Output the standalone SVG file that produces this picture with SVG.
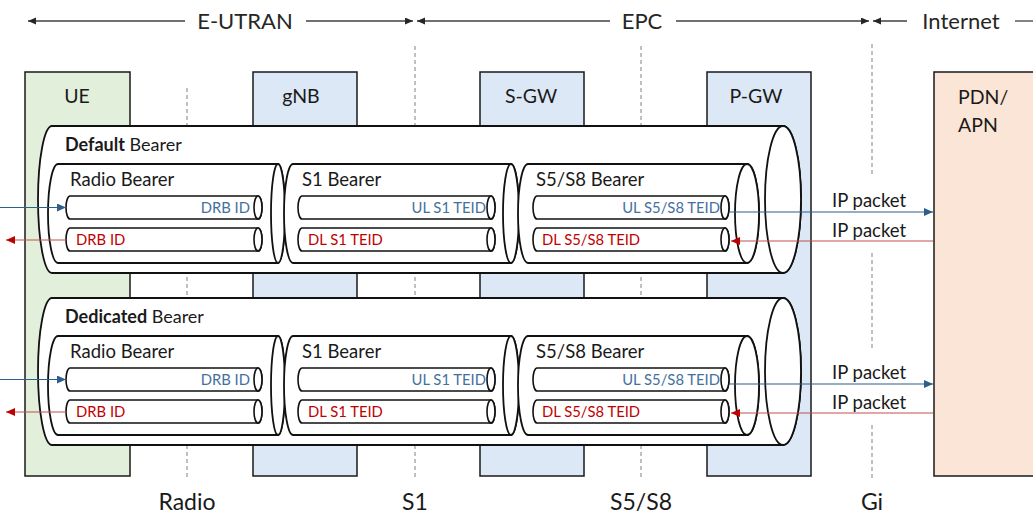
<svg xmlns="http://www.w3.org/2000/svg" width="1033" height="516" viewBox="0 0 1033 516">
<defs>
<style>
text{font-family:Lato,"Liberation Sans",sans-serif;fill:#1a1a1a}
.top{font-size:22px;text-anchor:middle;fill:#262626}
.box{stroke:#1a1a1a;stroke-width:1.5}
.ue{fill:#e2efda}.nb{fill:#dce8f5}.pdn{fill:#fbe5d6}
.bl{font-size:19.5px}
.bot{font-size:23px;text-anchor:middle}
.cyl{fill:#fff;stroke:#111;stroke-width:1.8}
.pipe{fill:#fff;stroke:#111;stroke-width:1.6}
.bn{font-size:18.5px}
.hd{font-size:18px}
.ul{font-size:14.8px;fill:#44709d;text-anchor:end}
.dl{font-size:14.8px;fill:#c00000}
.ip{font-size:18.5px}
.dash{stroke:#808080;stroke-width:1;stroke-dasharray:4 3}
.span{stroke:#404040;stroke-width:1.3;fill:none}
.blue{stroke:#2e5e8c;stroke-width:1.2}
.red{stroke:#c0504d;stroke-width:1.2}
</style>
<marker id="ak" markerUnits="userSpaceOnUse" markerWidth="9" markerHeight="8" refX="8" refY="3.5" orient="auto"><path d="M0,0L8,3.5L0,7z" fill="#262626"/></marker>
<marker id="ab" markerUnits="userSpaceOnUse" markerWidth="10" markerHeight="10" refX="9" refY="4" orient="auto"><path d="M0,0L9,4L0,8z" fill="#2e5e8c"/></marker>
<marker id="ar" markerUnits="userSpaceOnUse" markerWidth="10" markerHeight="10" refX="9" refY="4" orient="auto"><path d="M0,0L9,4L0,8z" fill="#c00000"/></marker>
</defs>
<rect width="1033" height="516" fill="#fff"/>

<g id="domains">
<line class="span" x1="185" y1="21" x2="28" y2="21" marker-end="url(#ak)"/>
<line class="span" x1="306" y1="21" x2="413" y2="21" marker-end="url(#ak)"/>
<text class="top" x="245" y="29">E-UTRAN</text>
<line class="span" x1="610" y1="21" x2="417" y2="21" marker-end="url(#ak)"/>
<line class="span" x1="676" y1="21" x2="869" y2="21" marker-end="url(#ak)"/>
<text class="top" x="642" y="29">EPC</text>
<line class="span" x1="907" y1="21" x2="873" y2="21" marker-end="url(#ak)"/>
<line class="span" x1="1015" y1="21" x2="1033" y2="21"/>
<text class="top" x="961" y="29">Internet</text>
</g>

<g id="interfaces">
<line class="dash" x1="187" y1="88" x2="187" y2="478"/>
<line class="dash" x1="415" y1="46" x2="415" y2="478"/>
<line class="dash" x1="641" y1="46" x2="641" y2="478"/>
<line class="dash" x1="872" y1="44" x2="872" y2="177"/>
<line class="dash" x1="872" y1="253" x2="872" y2="349"/>
<line class="dash" x1="872" y1="425" x2="872" y2="478"/>
<text class="bot" x="187" y="510">Radio</text>
<text class="bot" x="415" y="510">S1</text>
<text class="bot" x="641" y="510">S5/S8</text>
<text class="bot" x="872" y="510">Gi</text>
</g>

<g id="ue"><rect class="box ue" x="25" y="72" width="105" height="404"/><text class="bl" x="77" y="103" text-anchor="middle">UE</text></g>
<g id="gnb"><rect class="box nb" x="253" y="72" width="104" height="404"/><text class="bl" x="301" y="103" text-anchor="middle">gNB</text></g>
<g id="sgw"><rect class="box nb" x="480" y="72" width="104" height="404"/><text class="bl" x="531" y="103" text-anchor="middle">S-GW</text></g>
<g id="pgw"><rect class="box nb" x="707" y="72" width="104" height="404"/><text class="bl" x="756" y="103" text-anchor="middle">P-GW</text></g>
<g id="pdn"><rect class="box pdn" x="934" y="72" width="110" height="404"/><text class="bl" x="958" y="104">PDN/</text><text class="bl" x="958" y="132">APN</text></g>

<g id="default-bearer">
<path class="cyl" d="M52,126H783A18,73.5 0 0 1 783,273H52A14,73.5 0 0 1 52,126Z"/>
<ellipse class="cyl" cx="783" cy="199.5" rx="18" ry="73.5"/>
<text class="hd" x="65" y="151"><tspan font-weight="bold">Default</tspan> Bearer</text>
<g id="d-radio">
<path class="cyl" d="M58,164H278A7,49.5 0 0 1 278,263H58A10,49.5 0 0 1 58,164Z"/>
<ellipse class="cyl" cx="278" cy="213.5" rx="7" ry="49.5"/>
<text class="bn" x="70" y="186">Radio Bearer</text>
<path class="pipe" d="M70,196H258A4,11.5 0 0 1 258,219H70A4,11.5 0 0 1 70,196Z"/><ellipse class="pipe" cx="258" cy="207.5" rx="4" ry="11.5"/>
<path class="pipe" d="M70,228H258A4,11.5 0 0 1 258,251H70A4,11.5 0 0 1 70,228Z"/><ellipse class="pipe" cx="258" cy="239.5" rx="4" ry="11.5"/>
<text class="ul" x="250" y="213">DRB ID</text><text class="dl" x="76" y="245">DRB ID</text>
</g>
<g id="d-s1">
<path class="cyl" d="M293,164H511A8,49.5 0 0 1 511,263H293A9,49.5 0 0 1 293,164Z"/>
<ellipse class="cyl" cx="511" cy="213.5" rx="8" ry="49.5"/>
<text class="bn" x="302" y="186">S1 Bearer</text>
<path class="pipe" d="M302,196H491A4,11.5 0 0 1 491,219H302A4,11.5 0 0 1 302,196Z"/><ellipse class="pipe" cx="491" cy="207.5" rx="4" ry="11.5"/>
<path class="pipe" d="M302,228H491A4,11.5 0 0 1 491,251H302A4,11.5 0 0 1 302,228Z"/><ellipse class="pipe" cx="491" cy="239.5" rx="4" ry="11.5"/>
<text class="ul" x="486" y="213">UL S1 TEID</text><text class="dl" x="308" y="245">DL S1 TEID</text>
</g>
<g id="d-s5">
<path class="cyl" d="M528,164H747A12,49.5 0 0 1 747,263H528A10,49.5 0 0 1 528,164Z"/>
<ellipse class="cyl" cx="747" cy="213.5" rx="12" ry="49.5"/>
<text class="bn" x="536" y="186">S5/S8 Bearer</text>
<path class="pipe" d="M537,196H725A4,11.5 0 0 1 725,219H537A4,11.5 0 0 1 537,196Z"/><ellipse class="pipe" cx="725" cy="207.5" rx="4" ry="11.5"/>
<path class="pipe" d="M537,228H725A4,11.5 0 0 1 725,251H537A4,11.5 0 0 1 537,228Z"/><ellipse class="pipe" cx="725" cy="239.5" rx="4" ry="11.5"/>
<text class="ul" x="720" y="213">UL S5/S8 TEID</text><text class="dl" x="542" y="245">DL S5/S8 TEID</text>
</g>
</g>

<g id="dedicated-bearer" transform="translate(0,172)">
<path class="cyl" d="M52,126H783A18,73.5 0 0 1 783,273H52A14,73.5 0 0 1 52,126Z"/>
<ellipse class="cyl" cx="783" cy="199.5" rx="18" ry="73.5"/>
<text class="hd" x="65" y="151"><tspan font-weight="bold">Dedicated</tspan> Bearer</text>
<g id="e-radio">
<path class="cyl" d="M58,164H278A7,49.5 0 0 1 278,263H58A10,49.5 0 0 1 58,164Z"/>
<ellipse class="cyl" cx="278" cy="213.5" rx="7" ry="49.5"/>
<text class="bn" x="70" y="186">Radio Bearer</text>
<path class="pipe" d="M70,196H258A4,11.5 0 0 1 258,219H70A4,11.5 0 0 1 70,196Z"/><ellipse class="pipe" cx="258" cy="207.5" rx="4" ry="11.5"/>
<path class="pipe" d="M70,228H258A4,11.5 0 0 1 258,251H70A4,11.5 0 0 1 70,228Z"/><ellipse class="pipe" cx="258" cy="239.5" rx="4" ry="11.5"/>
<text class="ul" x="250" y="213">DRB ID</text><text class="dl" x="76" y="245">DRB ID</text>
</g>
<g id="e-s1">
<path class="cyl" d="M293,164H511A8,49.5 0 0 1 511,263H293A9,49.5 0 0 1 293,164Z"/>
<ellipse class="cyl" cx="511" cy="213.5" rx="8" ry="49.5"/>
<text class="bn" x="302" y="186">S1 Bearer</text>
<path class="pipe" d="M302,196H491A4,11.5 0 0 1 491,219H302A4,11.5 0 0 1 302,196Z"/><ellipse class="pipe" cx="491" cy="207.5" rx="4" ry="11.5"/>
<path class="pipe" d="M302,228H491A4,11.5 0 0 1 491,251H302A4,11.5 0 0 1 302,228Z"/><ellipse class="pipe" cx="491" cy="239.5" rx="4" ry="11.5"/>
<text class="ul" x="486" y="213">UL S1 TEID</text><text class="dl" x="308" y="245">DL S1 TEID</text>
</g>
<g id="e-s5">
<path class="cyl" d="M528,164H747A12,49.5 0 0 1 747,263H528A10,49.5 0 0 1 528,164Z"/>
<ellipse class="cyl" cx="747" cy="213.5" rx="12" ry="49.5"/>
<text class="bn" x="536" y="186">S5/S8 Bearer</text>
<path class="pipe" d="M537,196H725A4,11.5 0 0 1 725,219H537A4,11.5 0 0 1 537,196Z"/><ellipse class="pipe" cx="725" cy="207.5" rx="4" ry="11.5"/>
<path class="pipe" d="M537,228H725A4,11.5 0 0 1 725,251H537A4,11.5 0 0 1 537,228Z"/><ellipse class="pipe" cx="725" cy="239.5" rx="4" ry="11.5"/>
<text class="ul" x="720" y="213">UL S5/S8 TEID</text><text class="dl" x="542" y="245">DL S5/S8 TEID</text>
</g>
</g>

<g id="connectors">
<line class="blue" x1="0" y1="207.5" x2="66" y2="207.5" marker-end="url(#ab)"/>
<line class="red" x1="66" y1="240" x2="6" y2="240" marker-end="url(#ar)"/>
<line class="blue" x1="730" y1="212" x2="933" y2="212" marker-end="url(#ab)"/>
<line class="red" x1="933" y1="241" x2="731" y2="241" marker-end="url(#ar)"/>
<line class="blue" x1="0" y1="379.5" x2="66" y2="379.5" marker-end="url(#ab)"/>
<line class="red" x1="66" y1="412" x2="6" y2="412" marker-end="url(#ar)"/>
<line class="blue" x1="730" y1="384" x2="933" y2="384" marker-end="url(#ab)"/>
<line class="red" x1="933" y1="413" x2="731" y2="413" marker-end="url(#ar)"/>
<text class="ip" x="832" y="207">IP packet</text>
<text class="ip" x="832" y="237">IP packet</text>
<text class="ip" x="832" y="379">IP packet</text>
<text class="ip" x="832" y="409">IP packet</text>
</g>
</svg>
